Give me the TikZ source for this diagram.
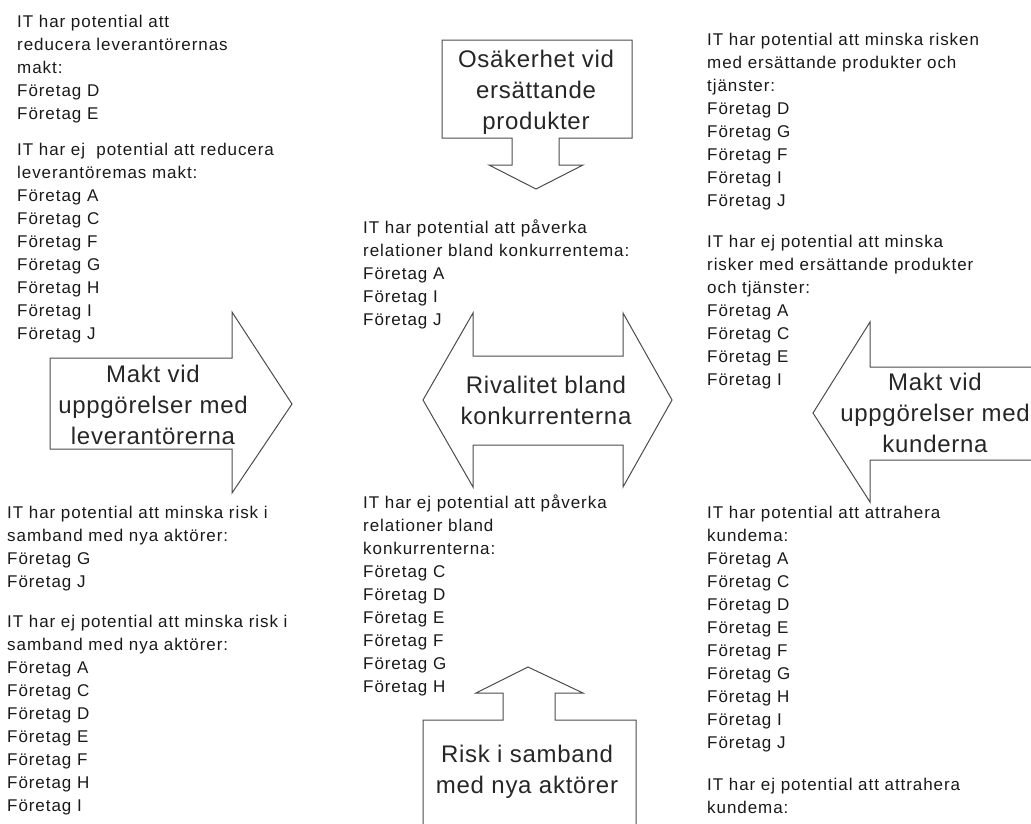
\documentclass[tikz,border=0pt]{standalone}
\usepackage{fontspec}
\setmainfont{Liberation Sans}
\newfontfamily\listfont[LetterSpace=5.5]{Liberation Sans}
\newfontfamily\forcefont[LetterSpace=3]{Liberation Sans}
\tikzset{
  lista/.style={anchor=north west, align=left, inner sep=0pt, text=black!90,
    font=\listfont\fontsize{17}{23}\selectfont},
  kraft/.style={anchor=north, align=center, inner sep=0pt, text=black!85,
    font=\forcefont\fontsize{24}{31}\selectfont},
  pil/.style={draw=black!70, line width=1pt, line join=miter, fill=white}
}
\begin{document}
\begin{tikzpicture}[x=1pt, y=-1pt]
  \useasboundingbox (0,0) rectangle (1031,823);
  \clip (0,0) rectangle (1031,823);
  \begin{scope}[pil]
    \draw (442,40) -- (632,40) -- (632,138) -- (559,138) -- (559,165) -- (583,165)
      -- (536,189) -- (489,165) -- (512,165) -- (512,138) -- (442,138) -- cycle;
    \draw (50,358) -- (232,358) -- (232,312) -- (292,404) -- (232,493) -- (232,449)
      -- (50,449) -- cycle;
    \draw (473,356) -- (623,356) -- (623,313) -- (672,400) -- (623,487) -- (623,445)
      -- (473,445) -- (473,487) -- (423,400) -- (473,313) -- cycle;
    \draw (1040,367) -- (870,367) -- (870,322) -- (813,413) -- (870,502) -- (870,460)
      -- (1040,460);
    \draw (423,830) -- (423,720) -- (503,720) -- (503,693) -- (476,693) -- (528,667)
      -- (583,693) -- (555,693) -- (555,720) -- (636,720) -- (636,830);
  \end{scope}
  \node[kraft] (osak) at (536,50) {Osäkerhet vid\\ersättande\\produkter};
  \node[kraft] (maktlev) at (153,365) {Makt vid\\uppgörelser med\\leverantörerna};
  \node[kraft] (rival) at (546,376) {Rivalitet bland\\konkurrenterna};
  \node[kraft] (maktkund) at (935,373) {Makt vid\\uppgörelser med\\kunderna};
  \node[kraft] (risk) at (527,745) {Risk i samband\\med nya aktörer};
  \node[lista] (levup) at (17,15) {IT har potential att\\reducera leverantörernas\\makt:\\Företag D\\Företag E};
  \node[lista] (levej) at (17,143) {IT har ej\ \ potential att reducera\\leverantöremas makt:\\Företag A\\Företag C\\Företag F\\Företag G\\Företag H\\Företag I\\Företag J};
  \node[lista] (nyaup) at (7,506) {IT har potential att minska risk i\\samband med nya aktörer:\\Företag G\\Företag J};
  \node[lista] (nyaej) at (7,615) {IT har ej potential att minska risk i\\samband med nya aktörer:\\Företag A\\Företag C\\Företag D\\Företag E\\Företag F\\Företag H\\Företag I};
  \node[lista] (konkup) at (363,219.5) {IT har potential att påverka\\relationer bland konkurrentema:\\Företag A\\Företag I\\Företag J};
  \node[lista] (konkej) at (363,494.5) {IT har ej potential att påverka\\relationer bland\\konkurrenterna:\\Företag C\\Företag D\\Företag E\\Företag F\\Företag G\\Företag H};
  \node[lista] (ersup) at (707,33) {IT har potential att minska risken\\med ersättande produkter och\\tjänster:\\Företag D\\Företag G\\Företag F\\Företag I\\Företag J};
  \node[lista] (ersej) at (707,235) {IT har ej potential att minska\\risker med ersättande produkter\\och tjänster:\\Företag A\\Företag C\\Företag E\\Företag I};
  \node[lista] (kundup) at (707,506) {IT har potential att attrahera\\kundema:\\Företag A\\Företag C\\Företag D\\Företag E\\Företag F\\Företag G\\Företag H\\Företag I\\Företag J};
  \node[lista] (kundej) at (707,778) {IT har ej potential att attrahera\\kundema:};
\end{tikzpicture}
\end{document}
